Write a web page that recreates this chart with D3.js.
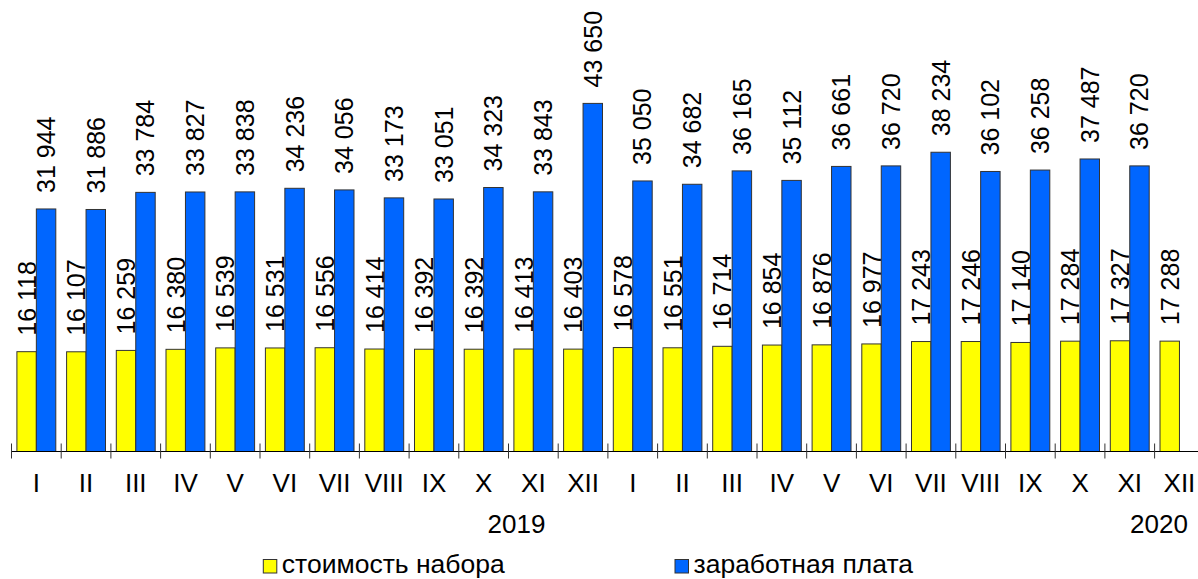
<!DOCTYPE html>
<html>
<head>
<meta charset="utf-8">
<script src="https://cdn.jsdelivr.net/npm/d3@7"></script>
<style>
  html, body { margin: 0; padding: 0; background: #fff; }
  svg { display: block; }
  text { font-family: "Liberation Sans", Arial, sans-serif; fill: #000; }
</style>
</head>
<body>
<svg id="chart" width="1198" height="579"></svg>
<script>
// ---- data ----
const months = ["I","II","III","IV","V","VI","VII","VIII","IX","X","XI","XII",
                "I","II","III","IV","V","VI","VII","VIII","IX","X","XI","XII"];
const years = ["2019", "2020"];
const seriesNames = ["стоимость набора", "заработная плата"];
const costValues = [16118,16107,16259,16380,16539,16531,16556,16414,16392,16392,16413,16403,
                    16578,16551,16714,16854,16876,16977,17243,17246,17140,17284,17327,17288];
const wageValues = [31944,31886,33784,33827,33838,34236,34056,33173,33051,34323,33843,43650,
                    35050,34682,36165,35112,36661,36720,38234,36102,36258,37487,36720,null];

// ---- layout ----
const W = 1198, H = 579;
const baseY = 451.5, topY = 103.4;
const xStart = 11.5, bandW = 49.7;
const colors = ["#FFFF00", "#0066FF"];
const labelSize = 25, axisSize = 26, legendSize = 26.5;

const svg = d3.select("#chart");
const idx = d3.range(months.length);

const x = d3.scaleBand().domain(idx).range([xStart, xStart + bandW * months.length]).padding(0);
const sub = d3.scaleBand().domain([0, 1]).range([5.4, bandW - 5.4]).padding(0);
const y = d3.scaleLinear().domain([5050, 43650]).range([baseY, topY]);

const fmt = v => d3.format(",")(v).replace(/,/g, " ");

const series = [costValues, wageValues];

series.forEach((vals, s) => {
  const data = idx.filter(i => vals[i] != null).map(i => ({i, v: vals[i]}));
  const g = svg.append("g");
  g.selectAll("rect").data(data).join("rect")
    .attr("x", d => x(d.i) + sub(s))
    .attr("y", d => y(d.v))
    .attr("width", sub.bandwidth())
    .attr("height", d => baseY - y(d.v))
    .attr("fill", colors[s])
    .attr("stroke", "#333")
    .attr("stroke-width", 1);
  g.selectAll("text").data(data).join("text")
    .attr("transform", d => {
      const cx = x(d.i) + sub(s) + sub.bandwidth() / 2;
      const cy = y(d.v) - 16;
      return `translate(${cx},${cy}) rotate(-90)`;
    })
    .attr("dy", "0.36em")
    .attr("font-size", labelSize)
    .text(d => fmt(d.v));
});

// axis line
svg.append("line")
  .attr("x1", xStart).attr("x2", W)
  .attr("y1", baseY).attr("y2", baseY)
  .attr("stroke", "#000").attr("stroke-width", 1.2);

// ticks at band boundaries
const boundaries = idx.map(i => x(i)).filter(v => v <= W);
svg.append("g").selectAll("line").data(boundaries).join("line")
  .attr("x1", d => d).attr("x2", d => d)
  .attr("y1", baseY - 8).attr("y2", baseY + 7)
  .attr("stroke", "#333").attr("stroke-width", 1);

// month labels
svg.append("g").selectAll("text").data(idx).join("text")
  .attr("x", i => x(i) + x.bandwidth() / 2)
  .attr("y", 491.8)
  .attr("text-anchor", "middle")
  .attr("font-size", axisSize)
  .text(i => months[i]);

// year labels
const yearPos = [516.5, 1159];
svg.append("g").selectAll("text").data(years).join("text")
  .attr("x", (d, k) => yearPos[k])
  .attr("y", 533)
  .attr("text-anchor", "middle")
  .attr("font-size", axisSize)
  .text(d => d);

// legend
const legendX = [263.3, 675];
const lg = svg.append("g").selectAll("g").data(seriesNames).join("g")
  .attr("transform", (d, k) => `translate(${legendX[k]},559.5)`);
lg.append("rect")
  .attr("width", 13.5).attr("height", 13.5)
  .attr("fill", (d, k) => colors[k])
  .attr("stroke", "#333").attr("stroke-width", 1);
lg.append("text")
  .attr("x", 18.5).attr("y", 13.5)
  .attr("font-size", legendSize)
  .text(d => d);
</script>
</body>
</html>
